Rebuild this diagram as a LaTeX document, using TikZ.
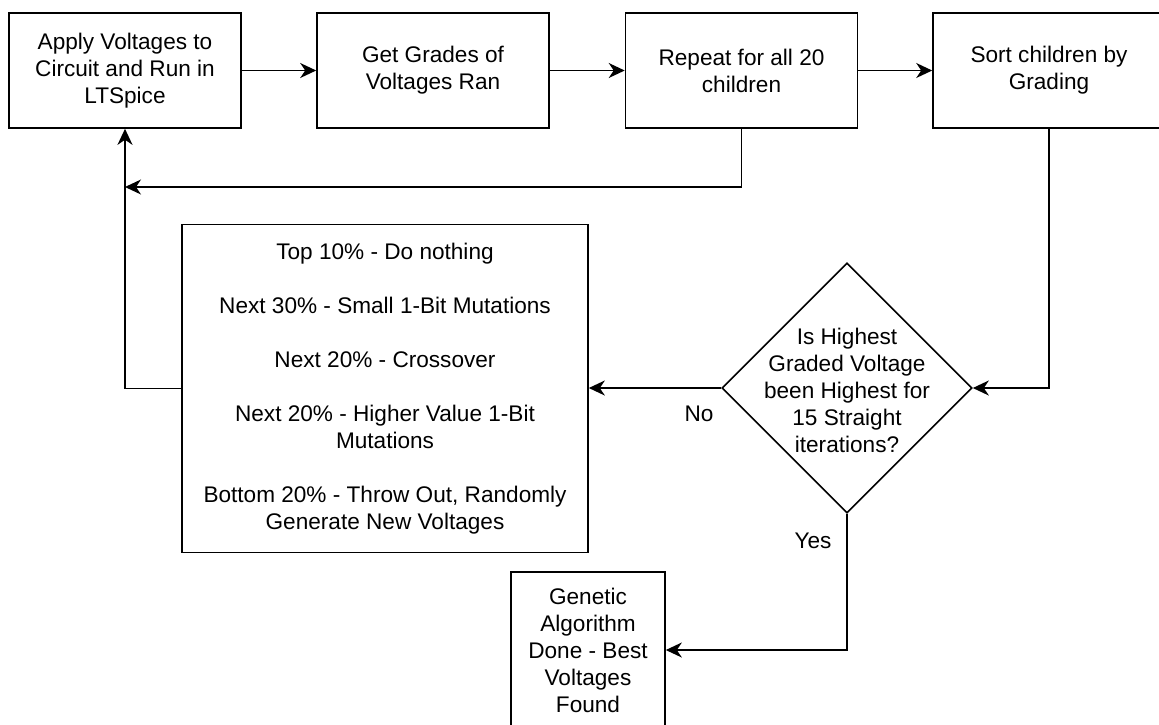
\documentclass[tikz,border=0pt]{standalone}
\usepackage{fontspec}
\setmainfont{Liberation Sans}
\usetikzlibrary{shapes.geometric,arrows.meta}

\begin{document}
\begin{tikzpicture}[x=0.5pt,y=-0.5pt,
		stepbox/.style={draw, line width=0.8pt, minimum width=116pt, minimum height=57.5pt, align=center, inner sep=2pt},
		decision/.style={draw, diamond, aspect=1, line width=0.8pt, minimum width=125pt, minimum height=125pt, inner sep=0pt},
		flow/.style={->, line width=0.8pt},
		every node/.style={font=\fontsize{11.3}{13.5}\selectfont}]
		\tikzset{>={Stealth[length=8pt,width=7.5pt,inset=2.5pt]}}
		\clip (0,0) rectangle (1159,724);
		% top row
		\node[stepbox] (apply) at (125,70.5) {Apply Voltages to\\Circuit and Run in\\LTSpice};
		\node[stepbox] (grades) at (433,70.5) {Get Grades of\\Voltages Ran};
		\node[stepbox] (repeat) at (741.5,70.5) {Repeat for all 20\\children};
		\node[stepbox] (sort) at (1049,70.5) {Sort children by\\Grading};
		% rules and decision
		\node[stepbox, minimum width=203pt, minimum height=164pt] (rules) at (385,388.5) {Top 10\% - Do nothing\\[13.5pt]Next 30\% - Small 1-Bit Mutations\\[13.5pt]Next 20\% - Crossover\\[13.5pt]Next 20\% - Higher Value 1-Bit\\Mutations\\[13.5pt]Bottom 20\% - Throw Out, Randomly\\Generate New Voltages};
		\node[decision] (check) at (847,388) {};
		\node[align=center] (checktext) at (847,390) {Is Highest\\Graded Voltage\\been Highest for\\15 Straight\\iterations?};
		\node[stepbox, minimum width=77pt, minimum height=78pt] (done) at (588,650) {Genetic\\Algorithm\\Done - Best\\Voltages\\Found};
		\node (nolabel) at (699,414) {No};
		\node (yeslabel) at (813,541) {Yes};
		% connectors
		\coordinate (loopin) at (125,187);
		\draw[flow] (apply) -- (grades);
		\draw[flow] (grades) -- (repeat);
		\draw[flow] (repeat) -- (sort);
		\draw[flow] (repeat.south) |- (loopin);
		\draw[flow] (rules.west) -| (apply.south);
		\draw[flow] (sort.south) |- (check.east);
		\draw[flow] (check.west) -- (check.west -| rules.east);
		\draw[flow] (check.south) |- (done.east);
	\end{tikzpicture}
\end{document}
